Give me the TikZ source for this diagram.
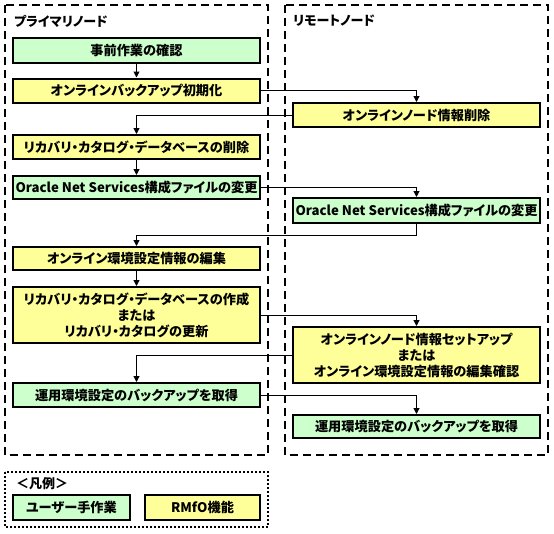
\documentclass[tikz,border=0pt]{standalone}
\usepackage{fontspec}
\setmainfont{Noto Sans CJK JP}[RawFeature=+palt]
\usetikzlibrary{arrows.meta}
\definecolor{ugreen}{HTML}{CCFFCC}
\definecolor{uyellow}{HTML}{FFFF99}
\tikzset{
  base/.style={draw=black,line width=2pt,minimum width=247pt,inner sep=0pt,align=center,
    font=\fontsize{13.2}{16}\selectfont\bfseries},
  gbox/.style={base,fill=ugreen},
  ybox/.style={base,fill=uyellow},
  arr/.style={line width=1pt,-{Triangle[length=6pt,width=6pt]}},
  lane/.style={line width=2pt,dash pattern=on 8pt off 5pt},
  legendframe/.style={line width=2pt,dash pattern=on 2pt off 2pt},
  lanetitle/.style={anchor=west,inner sep=0pt,font=\fontsize{13}{15}\selectfont\bfseries}
}
\begin{document}
\begin{tikzpicture}[x=1pt,y=-1pt]
\useasboundingbox (0,0) rectangle (554,533);
% lanes
\draw[lane] (5,5) rectangle (268,455);
\draw[lane] (285,5) rectangle (548,455);
\node[lanetitle] (tp) at (14,21) {プライマリノード};
\node[lanetitle] (tr) at (293,21) {リモートノード};
% primary
\node[gbox,minimum height=25pt] (p1) at (136.5,50.5) {事前作業の確認};
\node[ybox,minimum height=24pt] (p2) at (136.5,90.5) {オンラインバックアップ初期化};
\node[ybox,minimum height=24pt] (p3) at (136.5,147) {リカバリ・カタログ・データベースの削除};
\node[gbox,minimum height=23pt] (p4) at (136.5,187.5) {Oracle Net Services構成ファイルの変更};
\node[ybox,minimum height=23pt] (p5) at (136.5,258.5) {オンライン環境設定情報の編集};
\node[ybox,minimum height=56pt] (p6) at (136.5,315) {リカバリ・カタログ・データベースの作成\\または\\リカバリ・カタログの更新};
\node[gbox,minimum height=24pt] (p7) at (136.5,395) {運用環境設定のバックアップを取得};
% remote
\node[ybox,minimum height=24pt] (r1) at (416.5,115) {オンラインノード情報削除};
\node[gbox,minimum height=25pt] (r2) at (416.5,210.5) {Oracle Net Services構成ファイルの変更};
\node[ybox,minimum height=56pt] (r3) at (416.5,355) {オンラインノード情報セットアップ\\または\\オンライン環境設定情報の編集確認};
\node[gbox,minimum height=23pt] (r4) at (416.5,426.5) {運用環境設定のバックアップを取得};
% connectors
\coordinate (k) at (416.5,235);
\draw[arr] (p1) -- (p2);
\draw[arr] (p2.east) -| (r1.north);
\draw[arr] (r1.west) -| (p3.north);
\draw[arr] (p3) -- (p4);
\draw[arr] (p4.east) -| (r2.north);
\draw[arr] (r2.south) -- (k) -| (p5.north);
\draw[arr] (p5) -- (p6);
\draw[arr] (p6.east) -| (r3.north);
\draw[arr] (r3.west) -| (p7.north);
\draw[arr] (p7.east) -| (r4.north);
% legend
\draw[legendframe] (5,472) rectangle (268,527);
\node[lanetitle] (lt) at (16,484) {＜凡例＞};
\node[gbox,minimum width=117pt,minimum height=25pt] (lg) at (71.5,507.5) {ユーザー手作業};
\node[ybox,minimum width=115pt,minimum height=25pt] (ly) at (202.5,507.5) {RMfO機能};
\end{tikzpicture}
\end{document}
